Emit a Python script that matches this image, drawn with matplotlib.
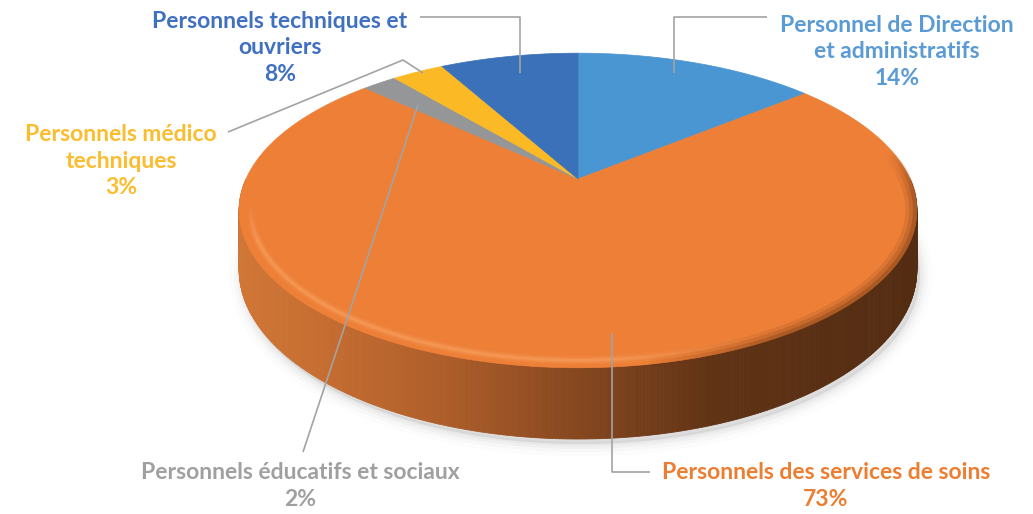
import numpy as np
import matplotlib
matplotlib.use("Agg")
import matplotlib.pyplot as plt
from matplotlib.patches import Polygon
from matplotlib.collections import LineCollection
from matplotlib.colors import LinearSegmentedColormap

# ---------------- data ----------------
categories = [
    "Personnel de Direction\net administratifs",
    "Personnels des services de soins",
    "Personnels éducatifs et sociaux",
    "Personnels médico\ntechniques",
    "Personnels techniques et\nouvriers",
]
values = [14, 73, 2, 3, 8]
top_colors = ["#4A96D3", "#ED7F37", "#949697", "#FBBA25", "#3B71B9"]
label_colors = ["#5B9BD5", "#ED7D31", "#A0A0A0", "#FBBC2E", "#4070C0"]

# ---------------- layout ----------------
W, H = 1033, 514
CX, CY = 578, 179       # apex of the pie on screen
SX, SY = 332, 151       # horizontal / vertical radius scale
K = 0.2                 # perspective strength
THICK = 57              # side thickness

label_pos = [(897, 52), (826, 486), (300, 486), (121, 161), (280, 48)]
leaders = [
    [(674, 73), (674, 17), (767, 17)],
    [(612, 333), (612, 472), (650, 472)],
    [(418, 105), (303, 452)],
    [(423, 73), (403, 60), (228, 132)],
    [(520, 73), (520, 17), (420, 17)],
]


def proj(theta, r=1.0):
    s = np.sin(theta)
    c = np.cos(theta)
    d = 1 + K * r * s
    return CX + SX * r * c / d, CY - SY * r * s / d


def thick(theta):
    return THICK / (1 + K * np.sin(theta))


fig = plt.figure(figsize=(W / 100, H / 100), dpi=100)
ax = fig.add_axes([0, 0, 1, 1])
ax.set_xlim(0, W)
ax.set_ylim(H, 0)
ax.axis("off")

# ---------------- shadow ----------------
th_all = np.linspace(0, 2 * np.pi, 400)
bx, by = proj(th_all)
by = by + thick(th_all)
for lw, a in [(18, 0.025), (12, 0.035), (7, 0.05), (3, 0.06)]:
    ax.add_patch(Polygon(np.column_stack([bx + 3, by + 5]), closed=True,
                         facecolor=(0.5, 0.5, 0.5, a), edgecolor=(0.5, 0.5, 0.5, a),
                         lw=lw, zorder=1, joinstyle="round"))

# ---------------- side ----------------
side_cmap = LinearSegmentedColormap.from_list("side", [
    (0.0, "#D07636"), (0.12, "#C66D31"), (0.3, "#AE5E2A"),
    (0.5, "#86471F"), (0.7, "#603315"), (1.0, "#532C12")])
th_side = np.linspace(np.pi, 2 * np.pi, 361)
tx, ty = proj(th_side)
bt = ty + thick(th_side)
for i in range(len(th_side) - 1):
    quad = [(tx[i], ty[i]), (tx[i + 1], ty[i + 1]), (tx[i + 1], bt[i + 1]), (tx[i], bt[i])]
    t = ((tx[i] + tx[i + 1]) / 2 - 240) / (918 - 240)
    col = side_cmap(np.clip(t, 0, 1))
    ax.add_patch(Polygon(quad, closed=True, facecolor=col, edgecolor=col, lw=0.6, zorder=2))

# ---------------- top wedges ----------------
total = sum(values)
cum = np.concatenate([[0], np.cumsum(values)])
starts = np.deg2rad(90 - 360 * cum[:-1] / total)
ends = np.deg2rad(90 - 360 * cum[1:] / total)
for i in range(len(values)):
    th = np.linspace(starts[i], ends[i], 200)
    x, y = proj(th)
    pts = np.vstack([[CX, CY], np.column_stack([x, y])])
    ax.add_patch(Polygon(pts, closed=True, facecolor=top_colors[i],
                         edgecolor=top_colors[i], lw=0.5, zorder=3))

# ---------------- rim bevel (soft) ----------------
th_rim = np.linspace(np.pi * 1.04, 2 * np.pi * 1.03, 300)


def rim(r, col_fn, lw):
    x, y = proj(th_rim, r)
    segs = [[(x[i], y[i]), (x[i + 1], y[i + 1])] for i in range(len(x) - 1)]
    n = len(segs)
    cols = []
    for i in range(n):
        t = ((x[i] + x[i + 1]) / 2 - 240) / (918 - 240)
        c = list(col_fn(t))
        fade = min(1.0, i / 25.0, (n - 1 - i) / 25.0)
        c[3] *= fade
        cols.append(tuple(c))
    ax.add_collection(LineCollection(segs, colors=cols, linewidths=lw, zorder=4,
                                     capstyle="butt"))


def light(a0):
    return lambda t: (0.98, 0.65, 0.40, a0 * np.clip((0.78 - t) / 0.25, 0, 1))


def dark(a0):
    return lambda t: (0.42, 0.21, 0.08, a0 * np.clip((t - 0.6) / 0.2, 0, 1))


for lw, a in [(6, 0.18), (3.5, 0.25), (1.8, 0.35)]:
    rim(0.968, light(a), lw)
for r, lw, a in [(0.985, 9, 0.12), (0.99, 6, 0.18), (0.995, 3, 0.3)]:
    rim(r, dark(a), lw)

# ---------------- leader lines & labels ----------------
for pts in leaders:
    p = np.array(pts)
    ax.plot(p[:, 0], p[:, 1], color="#A3A3A3", lw=1.2, zorder=5, solid_capstyle="butt")

for i, cat in enumerate(categories):
    pct = f"{values[i] / total * 100:.0f}%"
    ax.text(label_pos[i][0], label_pos[i][1], f"{cat}\n{pct}", ha="center", va="center",
            color=label_colors[i], fontsize=16.5, fontweight="bold", family="Lato",
            linespacing=1.3, zorder=6, multialignment="center")

fig.savefig("out.png", dpi=100)
